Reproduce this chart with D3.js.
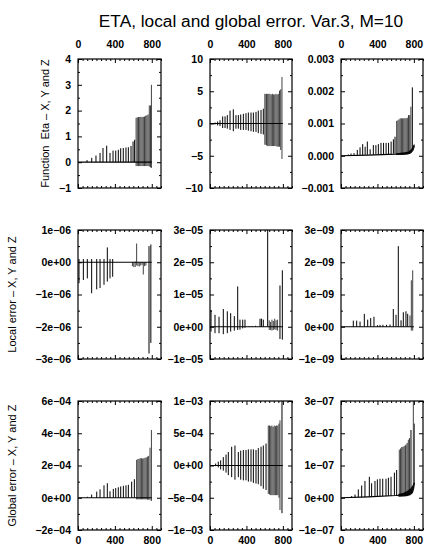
<!DOCTYPE html>
<html><head><meta charset="utf-8">
<script src="https://cdn.jsdelivr.net/npm/d3@7"></script>
<style>
body{margin:0;background:#fff;}
svg text{font-family:"Liberation Sans",Arial,Helvetica,sans-serif;}
</style></head><body>
<svg id="chart" width="429" height="559"></svg>
<script>
// ---------------- DATA ----------------
const chartTitle = "ETA, local and global error. Var.3, M=10";
const rowTitles = ["Function  Eta \u2013 X, Y and Z", "Local error \u2013 X, Y and Z", "Global error \u2013 X, Y and Z"];
const xDomain = [0, 900];
const xTickValues = [0, 400, 800];
const xTickLabels = ["0", "400", "800"];

// y tick values / labels per panel (row-major)
const yTicks = [
  [-1, 0, 1, 2, 3, 4], [-10, -5, 0, 5, 10], [-0.001, 0, 0.001, 0.002, 0.003],
  [-3e-6, -2e-6, -1e-6, 0, 1e-6], [-1e-5, 0, 1e-5, 2e-5, 3e-5], [-1e-9, 0, 1e-9, 2e-9, 3e-9],
  [-2e-4, 0, 2e-4, 4e-4, 6e-4], [-1e-3, -5e-4, 0, 5e-4, 1e-3], [-1e-7, 0, 1e-7, 2e-7, 3e-7]
];
const yTickLabels = [
  ["\u22121", "0", "1", "2", "3", "4"], ["\u221210", "\u22125", "0", "5", "10"], ["\u22120.001", "0.000", "0.001", "0.002", "0.003"],
  ["\u22123e\u221206", "\u22122e\u221206", "\u22121e\u221206", "0e+00", "1e\u221206"],
  ["\u22121e\u221205", "0e+00", "1e\u221205", "2e\u221205", "3e\u221205"],
  ["\u22121e\u221209", "0e+00", "1e\u221209", "2e\u221209", "3e\u221209"],
  ["\u22122e\u221204", "0e+00", "2e\u221204", "4e\u221204", "6e\u221204"],
  ["\u22121e\u221203", "\u22125e\u221204", "0e+00", "5e\u221204", "1e\u221203"],
  ["\u22121e\u221207", "0e+00", "1e\u221207", "2e\u221207", "3e\u221207"]
];

// spikes: [x, low, high]
const etaX = [[98,0,0.08],[149,0,0.17],[195,0,0.26],[239,0,0.36],[271,0,0.55],[311,0,0.64],[347,0,0.36],[380,0,0.45],[409,0,0.45],[437,0,0.48],[463,0,0.54],[491,0,0.55],[520,0,0.57],[546,0,0.58],[575,0,0.63],[597,0,0.8],[614,0,0.87],
  [630,-0.15,1.72],[643,-0.15,1.74],[656,-0.15,1.75],[669,-0.15,1.75],[682,-0.15,1.76],[695,-0.15,1.75],[708,-0.15,1.76],[721,-0.15,1.77],[734,-0.15,1.8],[747,-0.15,1.82],[760,-0.15,1.85],[773,-0.17,2.2],[786,-0.2,2.2],[796,-0.22,3.0]];
const etaY = [[55,-0.15,0.15],[84,-0.3,0.3],[110,-0.4,0.5],[139,-0.7,1.1],[165,-0.7,1.1],[190,-0.8,1.3],[220,-1.0,2.0],[256,-1.2,2.2],[285,-0.8,1.3],[311,-0.8,1.3],[337,-1.0,1.4],[366,-1.0,1.5],[395,-1.0,1.6],[421,-1.1,1.7],[450,-1.2,1.7],[476,-1.3,1.7],[505,-1.3,1.8],[530,-1.5,2.0],[560,-1.6,2.1],[585,-1.7,2.3],[604,-3.3,4.6],
  [620,-3.4,4.6],[633,-3.5,4.6],[646,-3.5,4.6],[659,-3.5,4.6],[672,-3.5,4.5],[685,-3.5,4.6],[698,-3.5,4.5],[711,-3.5,4.5],[724,-3.5,4.6],[737,-3.6,4.5],[750,-3.6,4.6],[763,-3.6,5.1],[776,-4.1,5.3],[790,-5.5,7.2]];
const etaZ = [[44,0,0.00002],[80,0,0.00004],[110,0.00001,0.00007],[143,0.00001,0.00008],[179,0.00002,0.00018],[209,0.00002,0.00026],[238,0.00002,0.00036],[265,0.00003,0.00028],[289,0.00003,0.00044],[320,0.00003,0.0002],[355,0.00003,0.00033],[383,0.00004,0.00033],[410,0.00004,0.00036],[439,0.00004,0.0004],[467,0.00005,0.0004],[495,0.00005,0.0004],[522,0.00005,0.0004],[550,0.00005,0.00044],[575,0.00006,0.00051],[593,0.00006,0.00059],
  [611,0.00003,0.00108],[624,0.00003,0.0011],[637,0.00003,0.00113],[650,0.00003,0.00116],[663,0.00003,0.00116],[676,0.00003,0.00116],[689,0.00003,0.00116],[702,0.00003,0.00117],[715,0.00004,0.00116],[728,0.00004,0.00118],[741,0.00005,0.00126],[754,0.00006,0.00126],[767,0.0001,0.00152],[783,0.0002,0.00212]];
const locX = [[11,-0.65e-6,0.1e-6],[58,-0.55e-6,0.1e-6],[101,-0.5e-6,0.1e-6],[148,-0.96e-6,0.1e-6],[203,-0.84e-6,0.1e-6],[239,-0.8e-6,0.1e-6],[282,-0.7e-6,0.1e-6],[318,-0.6e-6,0.46e-6],[347,-0.5e-6,0.1e-6],[376,-0.45e-6,0.1e-6],
  [590,-0.12e-6,0],[605,-0.15e-6,0],[620,-0.15e-6,0.02e-6],[636,-0.1e-6,0.58e-6],[650,-0.12e-6,0],[665,-0.13e-6,0],[680,-0.1e-6,0],[695,-0.08e-6,0],[708,-0.38e-6,0],[722,-0.12e-6,0],[736,-0.1e-6,0],
  [770,-2.83e-6,0.5e-6],[790,-2.5e-6,0.55e-6]];
const locY = [[11,-0.15e-5,0.52e-5],[55,-0.2e-5,0.37e-5],[99,-0.2e-5,0.31e-5],[146,-0.23e-5,0.55e-5],[190,-0.2e-5,0.48e-5],[227,-0.15e-5,0.42e-5],[267,-0.12e-5,0.33e-5],[304,-0.1e-5,1.25e-5],[329,-0.09e-5,0.22e-5],[359,-0.05e-5,0.22e-5],[384,-0.03e-5,0.22e-5],
  [430,0,0.02e-5],[460,0,0.02e-5],[500,0,0.03e-5],[549,0,0.25e-5],[566,0,0.25e-5],[585,0,0.22e-5],
  [633,0,3.0e-5],[650,-0.1e-5,0.2e-5],[665,-0.1e-5,0.15e-5],[680,-0.12e-5,0.22e-5],[695,-0.1e-5,0.18e-5],[710,-0.08e-5,0.25e-5],[725,-0.1e-5,0.2e-5],[740,-0.12e-5,0.22e-5],[768,-0.38e-5,1.28e-5],[794,-0.4e-5,1.75e-5]];
const locZ = [[135,0,0.19e-9],[172,0,0.19e-9],[209,0,0.16e-9],[256,0,0.4e-9],[293,0,0.22e-9],[326,0,0.27e-9],[362,0,0.31e-9],[400,0,0.05e-9],[428,0,0.06e-9],[460,0,0.06e-9],[500,0,0.06e-9],[538,0,0.07e-9],[574,0,0.55e-9],[604,0,0.37e-9],[629,0,2.5e-9],[659,0,0.2e-9],[684,0,0.45e-9],[713,0,0.48e-9],[732,0,0.4e-9],[757,0,0.35e-9],[772,-0.12e-9,1.44e-9],[787,-0.12e-9,1.75e-9]];
const globX = [[101,0,0.06e-4],[148,0,0.2e-4],[203,0,0.38e-4],[239,0,0.52e-4],[282,0,0.77e-4],[318,0,0.9e-4],[347,0,0.4e-4],[383,0,0.55e-4],[409,0,0.6e-4],[437,0,0.65e-4],[463,0,0.7e-4],[492,0,0.74e-4],[520,0,0.77e-4],[546,0,0.8e-4],[582,0,1.0e-4],[611,0,1.15e-4],
  [636,-0.1e-4,2.35e-4],[649,-0.1e-4,2.4e-4],[662,-0.1e-4,2.42e-4],[675,-0.1e-4,2.45e-4],[688,-0.1e-4,2.45e-4],[701,-0.1e-4,2.43e-4],[714,-0.1e-4,2.45e-4],[727,-0.1e-4,2.48e-4],[740,-0.1e-4,2.5e-4],[753,-0.12e-4,2.55e-4],[766,-0.12e-4,2.6e-4],[781,-0.15e-4,3.1e-4],[796,-0.2e-4,4.2e-4]];
const globY = [[62,-0.01e-3,0.03e-3],[91,-0.03e-3,0.06e-3],[117,-0.06e-3,0.08e-3],[146,-0.08e-3,0.13e-3],[176,-0.11e-3,0.17e-3],[201,-0.15e-3,0.21e-3],[238,-0.18e-3,0.29e-3],[274,-0.22e-3,0.31e-3],[311,-0.18e-3,0.21e-3],[337,-0.22e-3,0.23e-3],[366,-0.23e-3,0.24e-3],[395,-0.23e-3,0.24e-3],[421,-0.25e-3,0.25e-3],[450,-0.25e-3,0.25e-3],[476,-0.27e-3,0.25e-3],[505,-0.28e-3,0.24e-3],[530,-0.29e-3,0.27e-3],[560,-0.32e-3,0.29e-3],[585,-0.36e-3,0.31e-3],[615,-0.38e-3,0.34e-3],
  [640,-0.44e-3,0.62e-3],[653,-0.45e-3,0.62e-3],[666,-0.46e-3,0.61e-3],[679,-0.46e-3,0.62e-3],[692,-0.46e-3,0.6e-3],[705,-0.46e-3,0.62e-3],[718,-0.46e-3,0.61e-3],[731,-0.46e-3,0.62e-3],[744,-0.46e-3,0.62e-3],[757,-0.5e-3,0.65e-3],[768,-0.69e-3,0.7e-3],[790,-0.74e-3,1.0e-3]];
const globZ = [[117,0,0.05e-7],[154,0,0.1e-7],[190,0.01e-7,0.26e-7],[227,0.01e-7,0.38e-7],[263,0.02e-7,0.52e-7],[311,0.02e-7,0.65e-7],[336,0.03e-7,0.45e-7],[373,0.03e-7,0.52e-7],[399,0.04e-7,0.57e-7],[428,0.04e-7,0.59e-7],[458,0.05e-7,0.59e-7],[494,0.05e-7,0.59e-7],[520,0.06e-7,0.62e-7],[549,0.06e-7,0.65e-7],[586,0.07e-7,0.78e-7],[611,0.07e-7,0.86e-7],
  [640,0.05e-7,1.49e-7],[653,0.05e-7,1.53e-7],[666,0.05e-7,1.57e-7],[679,0.05e-7,1.58e-7],[692,0.05e-7,1.6e-7],[705,0.06e-7,1.62e-7],[713,0.06e-7,1.65e-7],[726,0.07e-7,1.7e-7],[739,0.08e-7,1.8e-7],[752,0.1e-7,1.85e-7],[768,0.15e-7,2.1e-7],[794,0.3e-7,3.0e-7],[805,0.4e-7,2.3e-7]];

// baselines: [x, y]
const flatBase = [[0,0],[800,0]];
const etaZBase = [[0,0],[300,0.00002],[600,0.00005],[700,0.00007],[760,0.0001],[790,0.00018],[805,0.00032]];
const globZBase = [[0,0],[300,0.03e-7],[600,0.07e-7],[700,0.09e-7],[760,0.14e-7],[790,0.25e-7],[805,0.45e-7]];
// dark bundles near baseline: [x, low, high]
const etaZBand = [[605,0.00002,0.00007],[650,0.00002,0.00009],[700,0.00003,0.00011],[740,0.00005,0.00013],[770,0.00008,0.0002],[790,0.00015,0.0003],[805,0.00025,0.00038]];
const globZBand = [[630,0.03e-7,0.12e-7],[680,0.04e-7,0.15e-7],[720,0.05e-7,0.2e-7],[760,0.08e-7,0.28e-7],[790,0.15e-7,0.4e-7],[805,0.3e-7,0.5e-7]];

const seriesList = [etaX, etaY, etaZ, locX, locY, locZ, globX, globY, globZ];
const baseList = [flatBase, flatBase, etaZBase, flatBase, flatBase, flatBase, flatBase, flatBase, globZBase];
const bandList = [null, null, etaZBand, null, null, null, null, null, globZBand];

// ---------------- LAYOUT ----------------
const colX = [78, 210, 341];
const colW = [83, 82, 82];
const rowY = [59, 230, 401];
const panelH = 129;
const titleX = [45, 12, 12];

const svg = d3.select("#chart");
svg.append("rect").attr("width", 429).attr("height", 559).attr("fill", "#fff");

svg.append("text").attr("x", 251).attr("y", 26.5)
  .attr("text-anchor", "middle").attr("font-size", 17.3).attr("fill", "#000")
  .text(chartTitle);

rowTitles.forEach((t, r) => {
  svg.append("text")
    .attr("transform", `translate(${titleX[r]},${rowY[r] + panelH / 2}) rotate(-90)`)
    .attr("text-anchor", "middle").attr("dy", "0.35em")
    .attr("font-size", 11).attr("fill", "#000")
    .style("white-space", "pre")
    .text(t);
});

const tickFont = 10.5;

function styleAxis(g) {
  g.select(".domain").remove();
  g.selectAll(".tick line").attr("stroke", "#000").attr("stroke-width", 1);
  g.selectAll("text").attr("font-size", tickFont).attr("font-weight", "bold")
    .attr("font-family", '"Liberation Sans",Arial,sans-serif').attr("fill", "#000");
  g.attr("font-family", null).attr("font-size", null);
}

for (let r = 0; r < 3; r++) {
  for (let c = 0; c < 3; c++) {
    const i = r * 3 + c;
    const w = colW[c], h = panelH;
    const g = svg.append("g").attr("transform", `translate(${colX[c]},${rowY[r]})`);
    const x = d3.scaleLinear().domain(xDomain).range([0, w]);
    const yt = yTicks[i];
    const y = d3.scaleLinear().domain([yt[0], yt[yt.length - 1]]).range([h, 0]);
    const step = yt[1] - yt[0];
    const yMinor = d3.range(yt.length - 1).map(k => yt[k] + step / 2);
    const xMinor = d3.range(0, xDomain[1] + 1, 50).filter(v => !xTickValues.includes(v));

    const clipId = "clip" + i;
    g.append("clipPath").attr("id", clipId).append("rect").attr("width", w).attr("height", h);
    const plot = g.append("g").attr("clip-path", `url(#${clipId})`);

    // baseline
    plot.append("path").datum(baseList[i])
      .attr("d", d3.line().x(d => x(d[0])).y(d => y(d[1])))
      .attr("fill", "none").attr("stroke", "#000").attr("stroke-width", 1.2);

    // bundle
    if (bandList[i]) {
      plot.append("path").datum(bandList[i])
        .attr("d", d3.area().x(d => x(d[0])).y0(d => y(d[1])).y1(d => y(d[2])))
        .attr("fill", "#111");
    }

    // spikes (closely spaced spikes drawn thinner, as in the scanned original)
    const data = seriesList[i];
    plot.selectAll("line.spike").data(data).join("line")
      .attr("class", "spike")
      .attr("x1", d => x(d[0])).attr("x2", d => x(d[0]))
      .attr("y1", d => y(d[1])).attr("y2", d => y(d[2]))
      .attr("stroke", "#000")
      .attr("stroke-width", (d, k) => {
        const prev = k > 0 ? d[0] - data[k - 1][0] : 99;
        const next = k < data.length - 1 ? data[k + 1][0] - d[0] : 99;
        return Math.min(prev, next) < 16 ? 0.75 : 1;
      });

    // axes (ticks inside)
    const left = g.append("g").call(d3.axisLeft(y).tickValues(yt).tickFormat((d, k) => yTickLabels[i][k]).tickSizeInner(-4).tickSizeOuter(0).tickPadding(7));
    styleAxis(left);
    const leftMinor = g.append("g").call(d3.axisLeft(y).tickValues(yMinor).tickFormat("").tickSizeInner(-2).tickSizeOuter(0));
    styleAxis(leftMinor);
    const right = g.append("g").attr("transform", `translate(${w},0)`).call(d3.axisRight(y).tickValues(yt).tickFormat("").tickSizeInner(-4).tickSizeOuter(0));
    styleAxis(right);
    const rightMinor = g.append("g").attr("transform", `translate(${w},0)`).call(d3.axisRight(y).tickValues(yMinor).tickFormat("").tickSizeInner(-2).tickSizeOuter(0));
    styleAxis(rightMinor);

    const top = g.append("g").call(d3.axisTop(x).tickValues(xTickValues).tickFormat((d, k) => r === 0 ? xTickLabels[k] : "").tickSizeInner(-4).tickSizeOuter(0).tickPadding(11.5));
    styleAxis(top);
    const topMinor = g.append("g").call(d3.axisTop(x).tickValues(xMinor).tickFormat("").tickSizeInner(-2).tickSizeOuter(0));
    styleAxis(topMinor);
    const bottom = g.append("g").attr("transform", `translate(0,${h})`).call(d3.axisBottom(x).tickValues(xTickValues).tickFormat((d, k) => r === 2 ? xTickLabels[k] : "").tickSizeInner(-4).tickSizeOuter(0).tickPadding(6.5));
    styleAxis(bottom);
    const bottomMinor = g.append("g").attr("transform", `translate(0,${h})`).call(d3.axisBottom(x).tickValues(xMinor).tickFormat("").tickSizeInner(-2).tickSizeOuter(0));
    styleAxis(bottomMinor);

    // frame
    g.append("rect").attr("x", 0).attr("y", 0).attr("width", w).attr("height", h)
      .attr("fill", "none").attr("stroke", "#000").attr("stroke-width", 1.2);
  }
}
</script>
</body></html>
